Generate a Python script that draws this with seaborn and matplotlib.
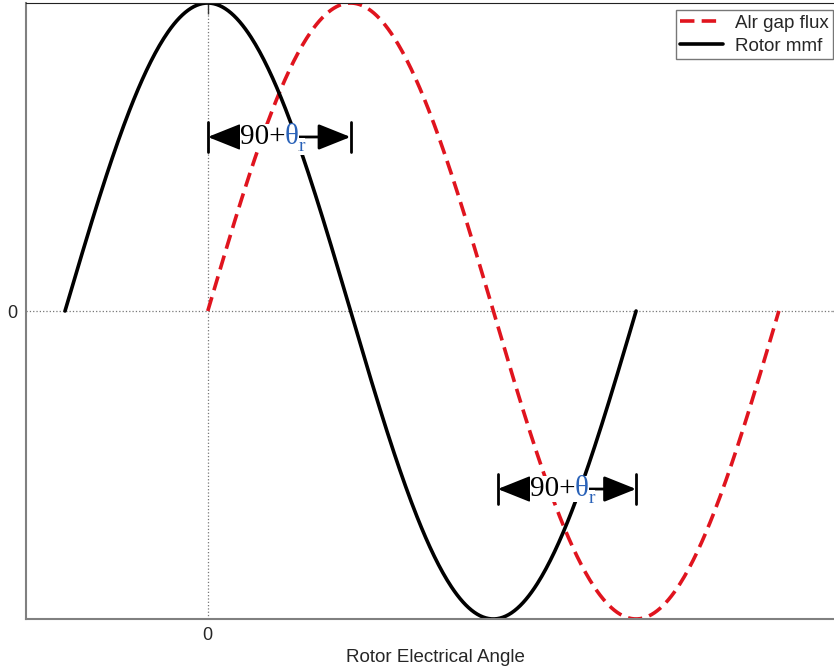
import numpy as np
import pandas as pd
import matplotlib
matplotlib.use("Agg")
import matplotlib.pyplot as plt
import seaborn as sns

# ---- data ----
angle_flux = np.linspace(0, 2 * np.pi, 400)           # air gap flux: 0 .. 2pi
flux_vals = np.sin(angle_flux)
angle_mmf = np.linspace(-np.pi / 2, 3 * np.pi / 2, 400)  # rotor mmf: -pi/2 .. 3pi/2
mmf_vals = np.cos(angle_mmf)

series_names = ["Alr gap flux", "Rotor mmf"]
x_ticks = [0]
y_ticks = [0]
x_label = "Rotor Electrical Angle"
arrow_spans = [(0.0, np.pi / 2, 0.565), (3.19, 3 * np.pi / 2, -0.578)]

df = pd.concat([
    pd.DataFrame({"angle": angle_flux, "value": flux_vals, "series": series_names[0]}),
    pd.DataFrame({"angle": angle_mmf, "value": mmf_vals, "series": series_names[1]}),
])

sns.set_style("white")
plt.rcParams["font.family"] = ["Liberation Sans", "DejaVu Sans"]

fig = plt.figure(figsize=(8.34, 6.69), dpi=100)
ax = fig.add_axes([26 / 834, 50 / 669, 818 / 834, 616 / 669])

sns.lineplot(data=df[df.series == series_names[0]], x="angle", y="value",
             color="#e0141e", lw=2.6, ax=ax, label=series_names[0], sort=False)
sns.lineplot(data=df[df.series == series_names[1]], x="angle", y="value",
             color="black", lw=2.6, ax=ax, label=series_names[1], sort=False)
ax.lines[0].set_dashes([4, 2])

ax.set_xlim(-2, 7)
ax.set_ylim(-1, 1)
ax.set_xticks(x_ticks)
ax.set_yticks(y_ticks)
ax.set_xticklabels(["0"], fontsize=13)
ax.set_yticklabels(["0"], fontsize=13)
ax.tick_params(direction="in", length=8, width=1, color="#333333",
               top=True, right=True, pad=6)
ax.grid(True, linestyle=":", color="#777777", lw=0.9)
ax.set_xlabel(x_label, fontsize=13.5, labelpad=3)
ax.set_ylabel("")

for s in ["left", "bottom"]:
    ax.spines[s].set_color("#808080")
    ax.spines[s].set_linewidth(1.5)
ax.spines["top"].set_color("#222222")
ax.spines["right"].set_color("#222222")

leg = ax.legend(loc="upper right", fontsize=13.5, frameon=True,
                fancybox=False, edgecolor="#555555", handlelength=2.3,
                borderpad=0.25, labelspacing=0.3, handletextpad=0.6,
                borderaxespad=0)
leg.set_bbox_to_anchor((833 / 834, 1 - 10 / 669), transform=fig.transFigure)
leg.get_frame().set_linewidth(1.0)

for (x0, x1, y) in arrow_spans:
    ax.annotate("", xy=(x0, y), xytext=(x1, y),
                arrowprops=dict(arrowstyle="<|-|>,head_length=1.0,head_width=0.4",
                                mutation_scale=20, color="black", lw=2,
                                shrinkA=0, shrinkB=0))
    ax.plot([x0, x0], [y - 0.05, y + 0.05], color="black", lw=2)
    ax.plot([x1, x1], [y - 0.05, y + 0.05], color="black", lw=2)
    t1 = ax.text(x0 + 0.35, y, "90+", fontsize=21, family="Liberation Serif",
                 ha="left", va="center", color="black",
                 bbox=dict(facecolor="white", edgecolor="none", pad=0))
    t2 = ax.annotate("θ", xy=(1, 0.5), xycoords=t1, ha="left", va="center",
                     fontsize=21, family="Liberation Serif", color="#2a62b8",
                     bbox=dict(facecolor="white", edgecolor="none", pad=0))
    ax.annotate("r", xy=(1, 0.12), xycoords=t2, ha="left", va="center",
                fontsize=14, family="Liberation Serif", color="#2a62b8",
                bbox=dict(facecolor="white", edgecolor="none", pad=0))

fig.savefig("out.png", dpi=100)
